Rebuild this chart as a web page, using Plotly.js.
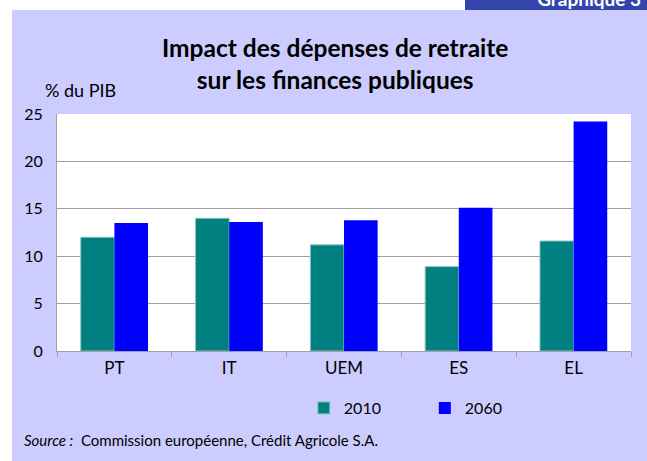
<!DOCTYPE html>
<html>
<head>
<meta charset="utf-8">
<script src="https://cdn.plot.ly/plotly-3.0.1.min.js"></script>
<style>
  html, body { margin: 0; padding: 0; background: #ffffff; width: 647px; height: 461px; overflow: hidden; }
  #banner { position: absolute; left: 465px; top: 0; width: 182px; height: 10px; background: #3344aa; overflow: hidden; }
  #banner span { position: absolute; right: 6px; top: -13px; color: #ffffff; font: bold 19px Lato, "DejaVu Sans", sans-serif; white-space: nowrap; }
  #chart { position: absolute; left: 12px; top: 10px; width: 635px; height: 451px; }
</style>
</head>
<body>
<div id="banner"><span>Graphique 3</span></div>
<div id="chart"></div>
<script>
const categories = ["PT", "IT", "UEM", "ES", "EL"];
const values2010 = [12.0, 14.0, 11.2, 8.9, 11.6];
const values2060 = [13.5, 13.6, 13.8, 15.1, 24.2];
const seriesNames = ["2010", "2060"];
const yTicks = [0, 5, 10, 15, 20, 25];

const FONT = "Lato, 'Open Sans', 'DejaVu Sans', sans-serif";

const traces = [
  {
    type: "bar", name: seriesNames[0], x: categories, y: values2010,
    marker: { color: "#008080", line: { color: "#8cc4c4", width: 1 } }
  },
  {
    type: "bar", name: seriesNames[1], x: categories, y: values2060,
    marker: { color: "#0000ff", line: { width: 0 } }
  }
];

const layout = {
  width: 635, height: 451,
  paper_bgcolor: "#ccccff",
  plot_bgcolor: "#ffffff",
  margin: { l: 45, r: 16, t: 104, b: 110 },
  font: { family: FONT, color: "#000000", size: 16 },
  barmode: "group",
  bargap: 0.414,
  bargroupgap: 0,
  showlegend: true,
  legend: {
    orientation: "h", x: 0.43, xanchor: "left", y: -0.2405, yanchor: "middle",
    bgcolor: "rgba(0,0,0,0)", font: { size: 16, family: FONT },
    entrywidth: 76, entrywidthmode: "pixels", traceorder: "normal"
  },
  title: {
    text: "<b>Impact des dépenses de retraite<br>sur les finances publiques</b>",
    x: 0.509, xanchor: "center", xref: "container",
    y: 0.896, yanchor: "middle", yref: "container",
    font: { size: 24.5, family: FONT, color: "#000000" }
  },
  xaxis: {
    type: "category",
    showline: true, linecolor: "#a0a0a0", linewidth: 1,
    ticks: "outside", tickson: "boundaries", ticklen: 5, tickcolor: "#a0a0a0",
    showgrid: false, zeroline: false,
    tickfont: { size: 17 },
    ticklabelstandoff: 2
  },
  yaxis: {
    range: [0, 25], tickvals: yTicks, ticktext: yTicks.map(String),
    showline: true, linecolor: "#a0a0a0", linewidth: 1,
    showgrid: true, gridcolor: "#a0a0a0", gridwidth: 1,
    zeroline: false, ticks: "",
    tickfont: { size: 16 },
    ticklabelstandoff: 10
  },
  annotations: [
    {
      text: "% du PIB", xref: "paper", yref: "paper",
      x: -0.025, xanchor: "left", y: 1.1, yanchor: "middle",
      showarrow: false, font: { size: 18, family: FONT }
    },
    {
      text: "<i>Source :</i>  Commission européenne, Crédit Agricole S.A.",
      xref: "paper", yref: "paper",
      x: -0.061, xanchor: "left", y: -0.375, yanchor: "middle",
      showarrow: false, font: { size: 15, family: FONT }
    }
  ]
};

Plotly.newPlot("chart", traces, layout, { displayModeBar: false, staticPlot: true });
</script>
</body>
</html>
